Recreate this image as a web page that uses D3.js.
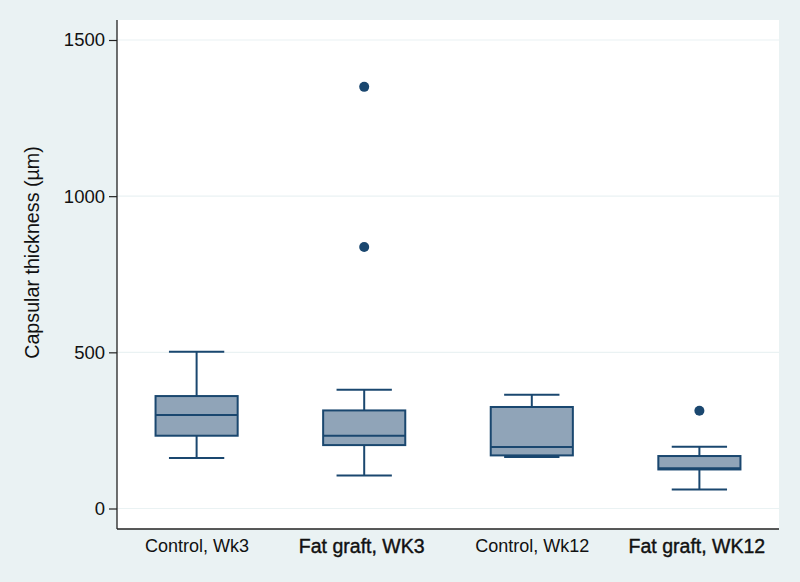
<!DOCTYPE html>
<html>
<head>
<meta charset="utf-8">
<script src="https://cdn.jsdelivr.net/npm/d3@7"></script>
<style>
  html, body { margin: 0; padding: 0; background: #eaf2f3; }
  svg { display: block; font-family: "Liberation Sans", Arial, sans-serif; }
  .grid line { stroke: #eaf2f3; stroke-width: 1.2; }
  .box { fill: #90a4b8; stroke: #1a476f; stroke-width: 2; }
  .whisker, .cap, .median { stroke: #1a476f; stroke-width: 2; }
</style>
</head>
<body>
<svg id="chart"></svg>
<script>
var width = 800, height = 582,
    margin = {top: 20, right: 21, bottom: 53, left: 117};

// values
var groups = ['Control, Wk3', 'Fat graft, WK3', 'Control, Wk12', 'Fat graft, WK12'];
var bold_groups = [false, true, false, true];
var lower_whisker = [162, 106, 165, 61];
var q1 = [233, 203, 170, 125];
var median = [299, 233, 197, 129];
var q3 = [360, 314, 325, 168];
var upper_whisker = [502, 380, 364, 198];
var outliers = [[], [837, 1350], [], [313]];
var y_ticks = [0, 500, 1000, 1500];

var svg = d3.select('#chart')
  .attr('width', width)
  .attr('height', height);

svg.append('rect')
  .attr('width', width).attr('height', height)
  .attr('fill', '#eaf2f3');

var w = width - margin.left - margin.right,
    h = height - margin.top - margin.bottom;

var g = svg.append('g')
  .attr('transform', 'translate(' + margin.left + ',' + margin.top + ')');

g.append('rect')
  .attr('width', w).attr('height', h)
  .attr('fill', '#ffffff');

var x = d3.scalePoint()
  .domain(groups)
  .range([0, w])
  .padding(0.475);

var y = d3.scaleLinear()
  .domain([0, 1500])
  .range([488.5, 20]);

var box_w = x.step() * 0.49,
    cap_w = x.step() * 0.33;

// gridlines
g.append('g').attr('class', 'grid')
  .selectAll('line')
  .data(y_ticks)
  .enter().append('line')
  .attr('x1', 0).attr('x2', w)
  .attr('y1', function(d) { return y(d); })
  .attr('y2', function(d) { return y(d); });

var data = groups.map(function(d, i) {
  return {name: d, lo: lower_whisker[i], q1: q1[i], med: median[i],
          q3: q3[i], hi: upper_whisker[i], out: outliers[i]};
});

var bx = g.selectAll('g.boxg')
  .data(data)
  .enter().append('g')
  .attr('class', 'boxg')
  .attr('transform', function(d) { return 'translate(' + x(d.name) + ',0)'; });

bx.append('line').attr('class', 'whisker')
  .attr('x1', 0).attr('x2', 0)
  .attr('y1', function(d) { return y(d.hi); })
  .attr('y2', function(d) { return y(d.q3); });

bx.append('line').attr('class', 'whisker')
  .attr('x1', 0).attr('x2', 0)
  .attr('y1', function(d) { return y(d.q1); })
  .attr('y2', function(d) { return y(d.lo); });

bx.append('line').attr('class', 'cap')
  .attr('x1', -cap_w / 2).attr('x2', cap_w / 2)
  .attr('y1', function(d) { return y(d.hi); })
  .attr('y2', function(d) { return y(d.hi); });

bx.append('line').attr('class', 'cap')
  .attr('x1', -cap_w / 2).attr('x2', cap_w / 2)
  .attr('y1', function(d) { return y(d.lo); })
  .attr('y2', function(d) { return y(d.lo); });

bx.append('rect').attr('class', 'box')
  .attr('x', -box_w / 2)
  .attr('width', box_w)
  .attr('y', function(d) { return y(d.q3); })
  .attr('height', function(d) { return y(d.q1) - y(d.q3); });

bx.append('line').attr('class', 'median')
  .attr('x1', -box_w / 2).attr('x2', box_w / 2)
  .attr('y1', function(d) { return y(d.med); })
  .attr('y2', function(d) { return y(d.med); });

bx.selectAll('circle')
  .data(function(d) { return d.out; })
  .enter().append('circle')
  .attr('cx', 0)
  .attr('cy', function(d) { return y(d); })
  .attr('r', 5)
  .attr('fill', '#1a476f');

// y axis
var yAxis = g.append('g')
  .call(d3.axisLeft(y).tickValues(y_ticks).tickSize(8).tickPadding(4).tickFormat(d3.format('d')));
yAxis.select('.domain').attr('d', 'M0,0V' + h).attr('stroke', '#222').attr('stroke-width', 1.3);
yAxis.selectAll('.tick line').attr('stroke', '#222').attr('stroke-width', 1.2);
yAxis.selectAll('.tick text')
  .attr('font-size', 18.5)
  .attr('font-family', '"Liberation Sans", Arial, sans-serif')
  .attr('fill', '#111');

// x axis
var xAxis = g.append('g')
  .attr('transform', 'translate(0,' + h + ')')
  .call(d3.axisBottom(x).tickSize(0).tickPadding(10));
xAxis.select('.domain').attr('d', 'M0,0H' + w).attr('stroke', '#222').attr('stroke-width', 1.3);
xAxis.selectAll('.tick text')
  .attr('font-family', '"Liberation Sans", Arial, sans-serif')
  .attr('fill', '#111')
  .attr('dx', function(d, i) { return bold_groups[i] ? -3 : 0; })
  .attr('font-size', function(d, i) { return bold_groups[i] ? 19.5 : 18; })
  .attr('stroke', function(d, i) { return bold_groups[i] ? '#111' : 'none'; })
  .attr('stroke-width', 0.4);

// y title
svg.append('text')
  .attr('transform', 'translate(38.5,252.5) rotate(-90)')
  .attr('text-anchor', 'middle')
  .attr('font-size', 19.7)
  .attr('fill', '#111')
  .text('Capsular thickness (µm)');
</script>
</body>
</html>
